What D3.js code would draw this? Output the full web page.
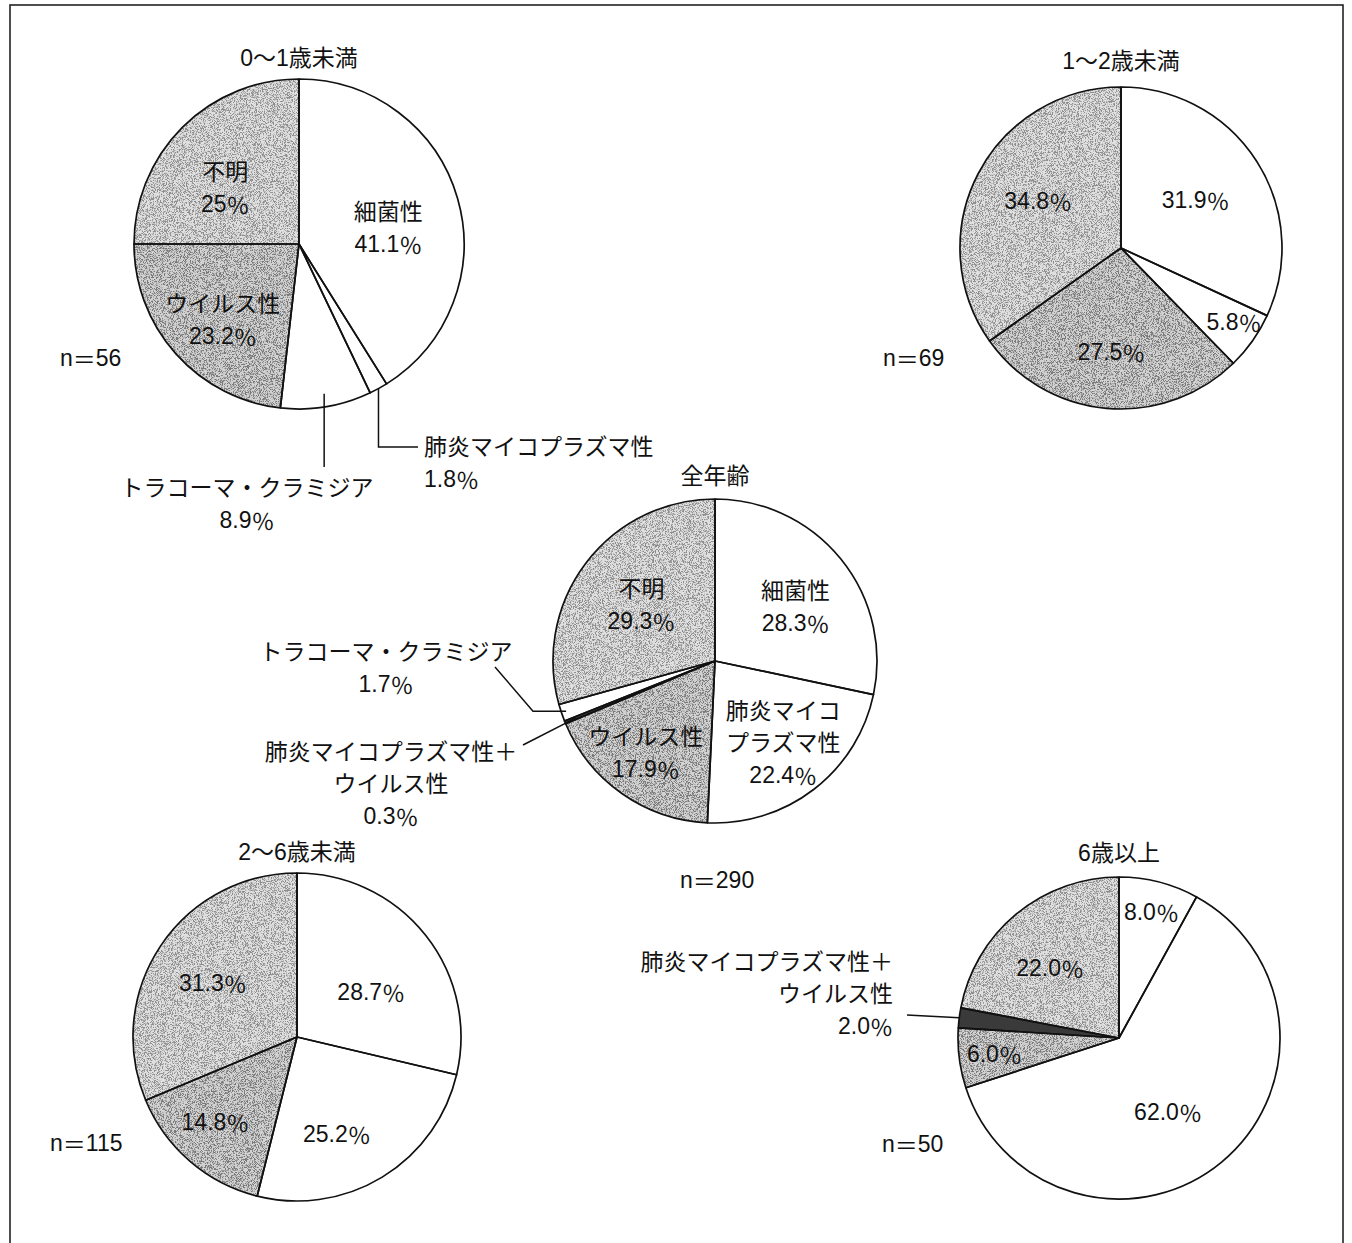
<!DOCTYPE html>
<html>
<head>
<meta charset="utf-8">
<script src="https://cdn.jsdelivr.net/npm/d3@7"></script>
<style>
  body { margin: 0; background: #fff; }
  svg text { font-family: "Liberation Sans", "Noto Sans CJK JP", sans-serif; fill: #111; }
  svg tspan.cjk { font-family: "Noto Sans CJK JP", sans-serif; }
</style>
</head>
<body>
<svg id="chart" width="1352" height="1243"></svg>
<script>
/* global d3 */

const titles = ['0〜1歳未満', '1〜2歳未満', '全年齢', '2〜6歳未満', '6歳以上'];
const sampleSizes = [56, 69, 290, 115, 50];

// slices run clockwise from 12 o'clock; values kept as printed
const cats0to1 = ['細菌性', '肺炎マイコプラズマ性', 'トラコーマ・クラミジア', 'ウイルス性', '不明'];
const vals0to1 = ['41.1', '1.8', '8.9', '23.2', '25'];
const cats1to2 = ['細菌性', '肺炎マイコプラズマ性', 'ウイルス性', '不明'];
const vals1to2 = ['31.9', '5.8', '27.5', '34.8'];
const catsAll = ['細菌性', '肺炎マイコプラズマ性', 'ウイルス性', '肺炎マイコプラズマ性＋ウイルス性', 'トラコーマ・クラミジア', '不明'];
const valsAll = ['28.3', '22.4', '17.9', '0.3', '1.7', '29.3'];
const cats2to6 = ['細菌性', '肺炎マイコプラズマ性', 'ウイルス性', '不明'];
const vals2to6 = ['28.7', '25.2', '14.8', '31.3'];
const cats6up = ['細菌性', '肺炎マイコプラズマ性', 'ウイルス性', '肺炎マイコプラズマ性＋ウイルス性', '不明'];
const vals6up = ['8.0', '62.0', '6.0', '2.0', '22.0'];

const pieData = [
  [cats0to1, vals0to1], [cats1to2, vals1to2], [catsAll, valsAll],
  [cats2to6, vals2to6], [cats6up, vals6up],
];

// layout for each pie: centre, radius, n= label offset, names inside?
const layout = [
  { cx: 299, cy: 244, r: 165, nx: -239, ny: 114, ty: -186, names: true },
  { cx: 1121, cy: 248, r: 161, nx: -238, ny: 110, ty: -187, names: false },
  { cx: 715, cy: 661, r: 162, nx: -35, ny: 219, ty: -185, names: true },
  { cx: 297, cy: 1037, r: 164, nx: -247, ny: 106, ty: -185, names: false },
  { cx: 1119, cy: 1038, r: 161, nx: -237, ny: 106, ty: -185, names: false },
];

// label placement inside slices: radius fraction k, angle shift da (deg)
const labelPlace = {
  '0|細菌性': [0.55, 6], '0|ウイルス性': [0.65, -3], '0|不明': [0.56, -8],
  '1|細菌性': [0.55, 0], '1|肺炎マイコプラズマ性': [0.84, -2], '1|ウイルス性': [0.65, 0], '1|不明': [0.59, 2],
  '2|細菌性': [0.6, 5], '2|肺炎マイコプラズマ性': [0.66, -2], '2|ウイルス性': [0.71, 2], '2|不明': [0.57, 0],
  '3|細菌性': [0.53, 7], '3|肺炎マイコプラズマ性': [0.64, 9], '3|ウイルス性': [0.72, 3], '3|不明': [0.61, -1],
  '4|細菌性': [0.81, 0], '4|肺炎マイコプラズマ性': [0.55, 6], '4|ウイルス性': [0.78, 0], '4|不明': [0.61, -5],
};

// slices labelled outside with a leader line (offsets from pie centre)
const callouts = [
  { pie: 0, cat: 'トラコーマ・クラミジア', k: 0.92, route: [['V', 223]],
    tx: -52, ty: 244, anchor: 'middle', lines: ['トラコーマ・クラミジア'] },
  { pie: 0, cat: '肺炎マイコプラズマ性', k: 1.0, route: [['V', 203], ['H', 119]],
    tx: 125, ty: 203, anchor: 'start', lines: ['肺炎マイコプラズマ性'] },
  { pie: 2, cat: 'トラコーマ・クラミジア', k: 0.97, route: [['H', -182], ['L', -220, 6]],
    tx: -329, ty: -9, anchor: 'middle', lines: ['トラコーマ・クラミジア'] },
  { pie: 2, cat: '肺炎マイコプラズマ性＋ウイルス性', k: 0.93, route: [['L', -192, 84]],
    tx: -324, ty: 91, anchor: 'middle', lines: ['肺炎マイコプラズマ性＋', 'ウイルス性'] },
  { pie: 4, cat: '肺炎マイコプラズマ性＋ウイルス性', k: 1.0, route: [['L', -212, -23]],
    tx: -226, ty: -76, anchor: 'end', lines: ['肺炎マイコプラズマ性＋', 'ウイルス性'] },
];

const insideLines = {
  '肺炎マイコプラズマ性': ['肺炎マイコ', 'プラズマ性'],
};

const tone = d3.scaleOrdinal()
  .domain(['細菌性', '肺炎マイコプラズマ性', 'トラコーマ・クラミジア', 'ウイルス性', '不明', '肺炎マイコプラズマ性＋ウイルス性'])
  .range(['#ffffff', '#ffffff', '#ffffff', '#d2d2d2', '#e0e0e0', '#3a3a3a']);

const grainy = cat => cat === 'ウイルス性' || cat === '不明';

const fontSize = 23;
const lineGap = 32;

const svg = d3.select('#chart');

// speckled print texture for the grey slices
const filter = svg.append('defs').append('filter')
  .attr('id', 'grain')
  .attr('x', 0).attr('y', 0).attr('width', 1).attr('height', 1);
filter.append('feTurbulence')
  .attr('type', 'fractalNoise')
  .attr('baseFrequency', 1.3)
  .attr('numOctaves', 2)
  .attr('seed', 4)
  .attr('result', 'noise');
filter.append('feColorMatrix')
  .attr('in', 'noise')
  .attr('type', 'matrix')
  .attr('values', '0 0 0 0 0  0 0 0 0 0  0 0 0 0 0  -7 0 0 0 3.7')
  .attr('result', 'dots');
filter.append('feComposite')
  .attr('in', 'dots').attr('in2', 'SourceAlpha').attr('operator', 'in');

// outer frame (bottom edge runs off the page)
svg.append('rect')
  .attr('x', 10).attr('y', 5)
  .attr('width', 1333).attr('height', 1260)
  .attr('fill', 'none')
  .attr('stroke', '#222')
  .attr('stroke-width', 1.6);

const pie = d3.pie().sort(null).value(d => d.value);

// write a line; a trailing ％ or ＝ gets the CJK face so it stays full width
const addText = (g, x, y, lines, anchor) => {
  const t = g.append('text')
    .attr('text-anchor', anchor)
    .style('font-size', `${fontSize}px`);
  lines.forEach((line, i) => {
    const row = t.append('tspan')
      .attr('x', x)
      .attr('y', y + i * lineGap)
      .attr('dominant-baseline', 'central');
    line.split(/([％＝])/).filter(s => s).forEach(part => {
      row.append('tspan')
        .attr('class', /[％＝]/.test(part) ? 'cjk' : null)
        .text(part);
    });
  });
};

pieData.forEach(([cats, vals], i) => {
  const { cx, cy, r, nx, ny, ty, names } = layout[i];
  const rows = cats.map((cat, j) => ({ cat, label: vals[j], value: +vals[j] }));
  const arcs = pie(rows);
  const arc = d3.arc().innerRadius(0).outerRadius(r);
  const g = svg.append('g').attr('transform', `translate(${cx},${cy})`);

  g.selectAll('path.fill')
    .data(arcs)
    .enter().append('path')
      .attr('class', 'fill')
      .attr('d', arc)
      .attr('fill', d => tone(d.data.cat));

  g.selectAll('path.grain')
    .data(arcs.filter(d => grainy(d.data.cat)))
    .enter().append('path')
      .attr('class', 'grain')
      .attr('d', arc)
      .attr('fill', '#000')
      .attr('opacity', d => (d.data.cat === 'ウイルス性' ? 0.42 : 0.36))
      .attr('filter', 'url(#grain)');

  g.selectAll('path.edge')
    .data(arcs)
    .enter().append('path')
      .attr('class', 'edge')
      .attr('d', arc)
      .attr('fill', 'none')
      .attr('stroke', '#111')
      .attr('stroke-width', 1.7)
      .attr('stroke-linejoin', 'round');

  // title and n
  addText(g, 0, ty, [titles[i]], 'middle');
  addText(g, nx, ny, [`n＝${sampleSizes[i]}`], 'start');

  const outside = callouts.filter(c => c.pie === i);

  arcs.forEach(d => {
    const pct = `${d.data.label}％`;
    const call = outside.find(c => c.cat === d.data.cat);
    if (call) {
      const [ax, ay] = d3.arc().innerRadius(call.k * r).outerRadius(call.k * r).centroid(d);
      const path = d3.path();
      path.moveTo(ax, ay);
      let px = ax;
      let py = ay;
      call.route.forEach(([cmd, a, b]) => {
        if (cmd === 'V') py = a;
        else if (cmd === 'H') px = a;
        else { px = a; py = b; }
        path.lineTo(px, py);
      });
      g.append('path')
        .attr('d', path.toString())
        .attr('fill', 'none')
        .attr('stroke', '#111')
        .attr('stroke-width', 1.5);
      addText(g, call.tx, call.ty, [...call.lines, pct], call.anchor);
      return;
    }
    const [k, da] = labelPlace[`${i}|${d.data.cat}`] || [0.6, 0];
    const mid = (d.startAngle + d.endAngle) / 2 + da * Math.PI / 180;
    const lx = k * r * Math.sin(mid);
    const ly = -k * r * Math.cos(mid);
    const lines = names ? [...(insideLines[d.data.cat] || [d.data.cat]), pct] : [pct];
    addText(g, lx, ly - (lines.length - 1) * lineGap / 2, lines, 'middle');
  });
});
</script>
</body>
</html>
